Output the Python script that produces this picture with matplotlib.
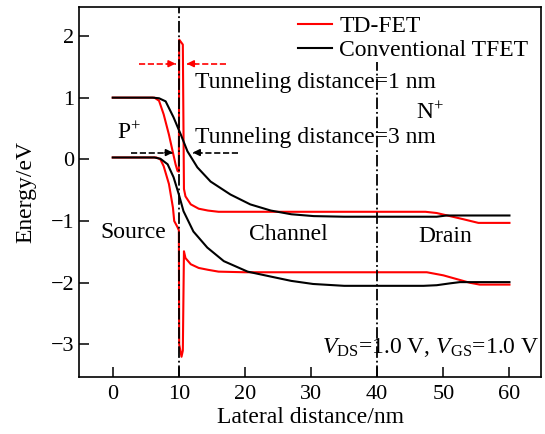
"""Energy band diagram: TD-FET vs conventional TFET."""
import matplotlib
matplotlib.use("Agg")
import matplotlib.pyplot as plt

plt.rcParams["font.family"] = ["Liberation Serif", "DejaVu Serif"]
plt.rcParams["mathtext.fontset"] = "custom"
plt.rcParams["mathtext.rm"] = "Liberation Serif"
plt.rcParams["mathtext.it"] = "Liberation Serif:italic"

# TD-FET conduction / valence band (red)
td_cb_x = [0, 6.3, 7.0, 7.7, 8.5, 9.06, 9.5, 9.8, 10.0, 10.05, 10.6, 10.77, 11.0, 11.8,
           13.0, 14.4, 16.0, 20, 30, 40, 47.3, 49, 51, 53, 55.3, 60]
td_cb_y = [1.0, 1.0, 0.95, 0.73, 0.4, 0.13, -0.08, -0.19, -0.2, 1.94, 1.86, -0.48, -0.6, -0.73,
           -0.8, -0.83, -0.85, -0.85, -0.85, -0.85, -0.85, -0.87, -0.92, -0.97, -1.03, -1.03]
td_vb_x = [0, 6.6, 7.2, 7.7, 8.5, 9.1, 9.3, 9.8, 10.0, 10.05, 10.4, 10.6, 10.77, 11.0, 11.8,
           13.0, 14.4, 16.0, 20, 30, 40, 47.5, 50, 52, 54, 55.5, 60]
td_vb_y = [0.03, 0.03, 0.0, -0.11, -0.4, -0.78, -1.0, -1.1, -1.15, -3.0, -3.2, -3.1, -1.49, -1.6, -1.7,
           -1.76, -1.79, -1.82, -1.83, -1.83, -1.83, -1.83, -1.88, -1.94, -2.0, -2.03, -2.03]

# Conventional TFET conduction / valence band (black)
tf_cb_x = [0, 6.0, 7.0, 8.0, 9.2, 10.3, 11.3, 12.8, 14.8, 17.8, 20.8, 23.9, 27, 30.4,
           35, 40, 49, 50.5, 60]
tf_cb_y = [1.0, 1.0, 0.99, 0.94, 0.68, 0.4, 0.13, -0.13, -0.36, -0.57, -0.73, -0.83, -0.89, -0.92,
           -0.93, -0.93, -0.93, -0.91, -0.91]
tf_vb_x = [0, 6.3, 7.2, 8.3, 9.2, 10.0, 10.7, 12.2, 14.3, 16.8, 20.4, 23.9, 27, 30.3,
           35, 40, 47, 49, 51, 52.5, 60]
tf_vb_y = [0.03, 0.03, 0.01, -0.08, -0.29, -0.57, -0.84, -1.17, -1.43, -1.65, -1.82, -1.9, -1.97, -2.02,
           -2.05, -2.05, -2.05, -2.04, -2.01, -1.99, -1.99]

XTICKS = [0, 10, 20, 30, 40, 50, 60]
YTICKS = [-3, -2, -1, 0, 1, 2]

fig = plt.figure(figsize=(5.45, 4.34), dpi=100)
ax = fig.add_axes([0.145, 0.131, 0.848, 0.853])

ax.plot(td_cb_x, td_cb_y, color="#ff0000", lw=1.5, label="TD-FET")
ax.plot(tf_cb_x, tf_cb_y, color="black", lw=1.5, label="Conventional TFET")
ax.plot(td_vb_x, td_vb_y, color="#ff0000", lw=1.5)
ax.plot(tf_vb_x, tf_vb_y, color="black", lw=1.5)

ylo, yhi = -3.53, 2.47
ax.vlines(10, ylo, yhi, colors="black", linestyles="-.", lw=1.3)
ax.vlines(40, ylo, 1.57, colors="black", linestyles="-.", lw=1.3)


def tunnel_arrow(x0, x1, y, color):
    # dashed shaft from x0 to x1, small solid head at x1
    ax.plot([x0, x1], [y, y], ls="--", color=color, lw=1.2)
    d = 1.0 if x1 > x0 else -1.0
    ax.annotate("", xy=(x1, y), xytext=(x1 - 1.2 * d, y),
                arrowprops=dict(arrowstyle="-|>", color=color, lw=1.2,
                                mutation_scale=10, shrinkA=0, shrinkB=0))


tunnel_arrow(3.9, 9.5, 1.55, "#ff0000")
tunnel_arrow(17.1, 11.2, 1.55, "#ff0000")
tunnel_arrow(2.7, 9.1, 0.11, "black")
tunnel_arrow(19.0, 12.1, 0.11, "black")

fs = 17
ax.text(12.5, 1.25, "Tunneling distance=1 nm", fontsize=fs, va="center", ha="left")
ax.text(12.5, 0.35, "Tunneling distance=3 nm", fontsize=fs, va="center", ha="left")
ax.text(48, 0.74, "N$^{+}$", fontsize=fs, va="center", ha="center")
ax.text(2.5, 0.43, "P$^{+}$", fontsize=fs, va="center", ha="center")
ax.text(-1.8, -1.18, "Source", fontsize=fs, va="center", ha="left")
ax.text(26.6, -1.22, "Channel", fontsize=fs, va="center", ha="center")
ax.text(50.3, -1.25, "Drain", fontsize=fs, va="center", ha="center")
ax.text(64.5, -3.05, r"$V_{\rm DS}$=1.0 V, $V_{\rm GS}$=1.0 V", fontsize=fs,
        va="center", ha="right")

ax.set_xlim(-5.1, 64.8)
ax.set_ylim(ylo, yhi)
ax.set_xticks(XTICKS)
ax.set_yticks(YTICKS)
ax.tick_params(direction="in", length=7, width=1.1, labelsize=16, top=False, right=False)
ax.tick_params(axis="x", pad=6)
for s in ax.spines.values():
    s.set_linewidth(1.2)
ax.set_xlabel("Lateral distance/nm", fontsize=fs, labelpad=2)
ax.set_ylabel("Energy/eV", fontsize=fs, labelpad=10)

ax.legend(loc="upper left", bbox_to_anchor=(0.443, 1.015), frameon=False, fontsize=fs,
          handlelength=1.45, handletextpad=0.3, borderpad=0.1, labelspacing=0.1)

fig.savefig("out.png", dpi=100)
